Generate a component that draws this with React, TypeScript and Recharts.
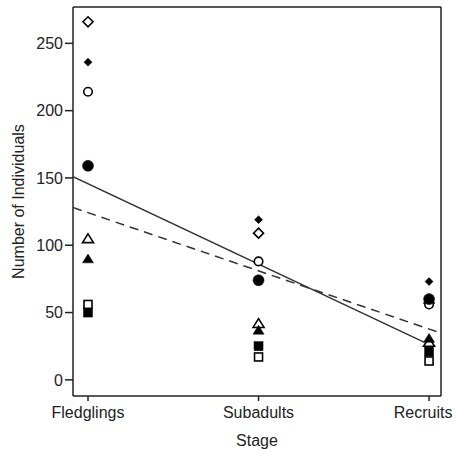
import React from 'react';
import { ComposedChart, Scatter, XAxis, YAxis, ReferenceLine } from 'recharts';

const stages = ['Fledglings', 'Subadults', 'Recruits'];
const stageX = [0, 1, 2];
const yTicks = [0, 50, 100, 150, 200, 250];

const openDiamond = [266, 109, 57];
const filledDiamond = [236, 119, 73];
const openCircle = [214, 88, 56];
const filledCircle = [159, 74, 60];
const openTriangle = [105, 42, 28];
const filledTriangle = [90, 37, 31];
const openSquare = [56, 17, 14];
const filledSquare = [50, 25, 21];

const solidFitX = [-0.088, 1.97];
const solidFitY = [151, 28];
const dashedFitX = [-0.088, 2.05];
const dashedFitY = [128, 35.6];

const xDomain = [-0.088, 2.07];
const yDomain = [-12, 277];

const toPoints = (ys: number[]) => ys.map((y, i) => ({ x: stageX[i], y }));
const toLine = (xs: number[], ys: number[]) => xs.map((x, i) => ({ x, y: ys[i] }));

type Kind = 'diamond' | 'circle' | 'triangle' | 'square';

const makeShape = (kind: Kind, filled: boolean, size: number) => (props: any) => {
  const { cx, cy } = props;
  if (cx == null || cy == null) return <g />;
  const fill = filled ? '#000' : '#fff';
  const stroke = '#000';
  const sw = filled ? 0.5 : 1.6;
  const h = size / 2;
  if (kind === 'circle') return <circle cx={cx} cy={cy} r={h} fill={fill} stroke={stroke} strokeWidth={sw} />;
  if (kind === 'square') return <rect x={cx - h} y={cy - h} width={size} height={size} fill={fill} stroke={stroke} strokeWidth={sw} />;
  if (kind === 'diamond')
    return <polygon points={`${cx},${cy - h} ${cx + h},${cy} ${cx},${cy + h} ${cx - h},${cy}`} fill={fill} stroke={stroke} strokeWidth={sw} />;
  return (
    <polygon
      points={`${cx},${cy - h * 0.85} ${cx + h},${cy + h * 0.75} ${cx - h},${cy + h * 0.75}`}
      fill={fill}
      stroke={stroke}
      strokeWidth={sw}
    />
  );
};

const noShape = () => <g />;

const font = '"Liberation Sans", Arial, sans-serif';
const textColor = '#222';

const StageTick = (props: any) => {
  const { x, y, payload, index } = props;
  const shift = index === 2 ? -6 : index === 1 ? 0 : 0;
  return (
    <text x={x + shift} y={y} dy={12} textAnchor="middle" fill={textColor} fontSize={16} fontFamily={font}>
      {stages[payload.value] ?? ''}
    </text>
  );
};

export default function App() {
  return (
    <div style={{ position: 'absolute', left: 0, top: 0, background: '#fff' }}>
      <ComposedChart width={456} height={452} margin={{ top: 7, right: 15, bottom: 0, left: 0 }}>
        <XAxis
          type="number"
          dataKey="x"
          domain={xDomain}
          ticks={stageX}
          allowDataOverflow
          height={56}
          tickSize={5}
          tickMargin={5}
          stroke="#222"
          strokeWidth={1.5}
          tick={<StageTick />}
          label={{ value: 'Stage', position: 'insideBottom', offset: 6, fill: textColor, fontSize: 16, fontFamily: font }}
        />
        <YAxis
          type="number"
          dataKey="y"
          domain={yDomain}
          ticks={yTicks}
          allowDataOverflow
          width={73}
          tickSize={8}
          tickMargin={2}
          stroke="#222"
          strokeWidth={1.5}
          tick={{ fill: textColor, fontSize: 16, fontFamily: font }}
          label={{
            value: 'Number of Individuals',
            angle: -90,
            position: 'insideLeft',
            offset: 18,
            fill: textColor,
            fontSize: 16,
            fontFamily: font,
            style: { textAnchor: 'middle' },
          }}
        />
        <ReferenceLine y={yDomain[1]} stroke="#222" strokeWidth={1.5} ifOverflow="extendDomain" />
        <ReferenceLine x={xDomain[1]} stroke="#222" strokeWidth={1.5} ifOverflow="extendDomain" />
        <Scatter data={toLine(solidFitX, solidFitY)} line={{ stroke: '#333', strokeWidth: 1.5 }} shape={noShape} isAnimationActive={false} />
        <Scatter
          data={toLine(dashedFitX, dashedFitY)}
          line={{ stroke: '#333', strokeWidth: 1.5, strokeDasharray: '9 6' }}
          shape={noShape}
          isAnimationActive={false}
        />
        <Scatter data={toPoints(openDiamond)} shape={makeShape('diamond', false, 10)} isAnimationActive={false} />
        <Scatter data={toPoints(filledDiamond)} shape={makeShape('diamond', true, 8)} isAnimationActive={false} />
        <Scatter data={toPoints(openCircle)} shape={makeShape('circle', false, 8.5)} isAnimationActive={false} />
        <Scatter data={toPoints(filledCircle)} shape={makeShape('circle', true, 11)} isAnimationActive={false} />
        <Scatter data={toPoints(openTriangle)} shape={makeShape('triangle', false, 11)} isAnimationActive={false} />
        <Scatter data={toPoints(filledTriangle)} shape={makeShape('triangle', true, 11)} isAnimationActive={false} />
        <Scatter data={toPoints(openSquare)} shape={makeShape('square', false, 8)} isAnimationActive={false} />
        <Scatter data={toPoints(filledSquare)} shape={makeShape('square', true, 9)} isAnimationActive={false} />
      </ComposedChart>
    </div>
  );
}
